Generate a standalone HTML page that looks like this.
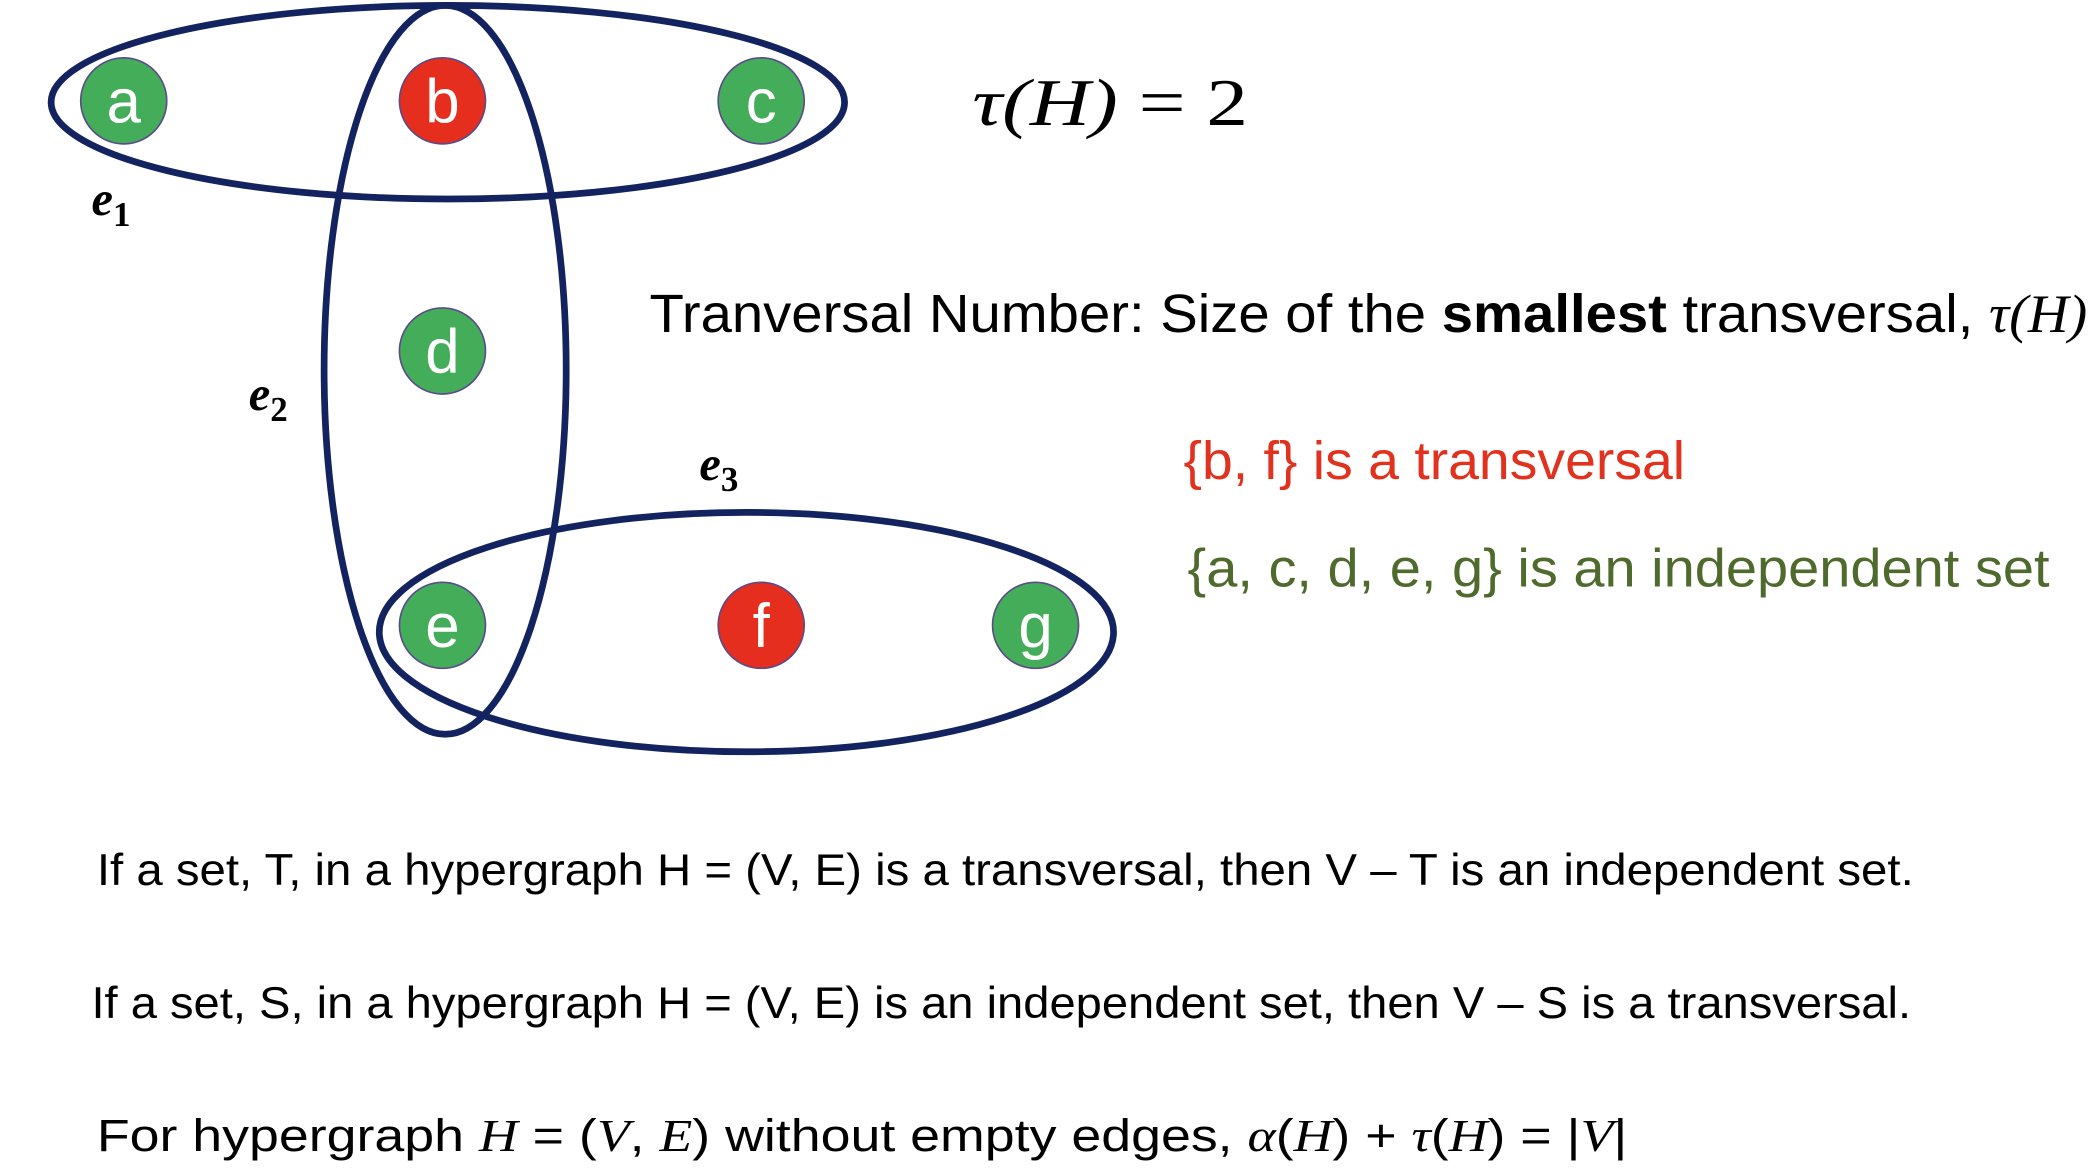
<!DOCTYPE html>
<html><head><meta charset="utf-8"><style>
html,body{margin:0;padding:0;background:#fff;}
svg{display:block;}
text{font-family:"Liberation Sans",sans-serif;}
.m{font-family:"Liberation Serif",serif;font-style:italic;}
.lbl{font-family:"Liberation Serif",serif;font-style:italic;font-weight:bold;}
.sub{font-style:normal;}
</style></head><body>
<svg width="2098" height="1170" viewBox="0 0 1560 870" preserveAspectRatio="none" xmlns="http://www.w3.org/2000/svg">
<rect width="1560" height="870" fill="#fff"/>
<g fill="none" stroke="#13235f" stroke-width="5">
<ellipse cx="333" cy="76" rx="295" ry="72"/>
<ellipse cx="331" cy="275" rx="90" ry="271"/>
<ellipse cx="555" cy="470" rx="273" ry="89"/>
</g>
<g stroke="#5a4a8a" stroke-width="1.2" font-size="46" text-anchor="middle" fill="#fff">
<g><circle cx="92" cy="75" r="32" fill="#44ad5a"/><text x="92" y="91" fill="#fff" stroke="none">a</text></g>
<g><circle cx="329" cy="75" r="32" fill="#e52e1e"/><text x="329" y="91" fill="#fff" stroke="none">b</text></g>
<g><circle cx="566" cy="75" r="32" fill="#44ad5a"/><text x="566" y="91" fill="#fff" stroke="none">c</text></g>
<g><circle cx="329" cy="261" r="32" fill="#44ad5a"/><text x="329" y="277" fill="#fff" stroke="none">d</text></g>
<g><circle cx="329" cy="465" r="32" fill="#44ad5a"/><text x="329" y="481" fill="#fff" stroke="none">e</text></g>
<g><circle cx="566" cy="465" r="32" fill="#e52e1e"/><text x="566" y="481" fill="#fff" stroke="none">f</text></g>
<g><circle cx="770" cy="465" r="32" fill="#44ad5a"/><text x="770" y="481" fill="#fff" stroke="none">g</text></g>
</g>
<g fill="#000">
<text class="lbl" x="68" y="160" font-size="36">e<tspan class="sub" font-size="26" dy="8">1</tspan></text>
<text class="lbl" x="185" y="305" font-size="36">e<tspan class="sub" font-size="26" dy="8">2</tspan></text>
<text class="lbl" x="520" y="357" font-size="36">e<tspan class="sub" font-size="26" dy="8">3</tspan></text>
</g>
<text class="m" x="723" y="93" font-size="50" textLength="205" lengthAdjust="spacingAndGlyphs">τ(H) <tspan font-style="normal">= 2</tspan></text>
<text x="483" y="247" font-size="40" textLength="1069" lengthAdjust="spacingAndGlyphs">Tranversal Number: Size of the <tspan font-weight="bold">smallest</tspan> transversal, <tspan class="m">τ(H)</tspan></text>
<text x="880" y="356" font-size="40" fill="#e0321e" textLength="373" lengthAdjust="spacingAndGlyphs">{b, f} is a transversal</text>
<text x="883" y="436" font-size="40" fill="#4e6a2c" textLength="641" lengthAdjust="spacingAndGlyphs">{a, c, d, e, g} is an independent set</text>
<text x="72" y="658" font-size="33" textLength="1351" lengthAdjust="spacingAndGlyphs">If a set, T, in a hypergraph H = (V, E) is a transversal, then V – T is an independent set.</text>
<text x="68" y="757" font-size="33" textLength="1353" lengthAdjust="spacingAndGlyphs">If a set, S, in a hypergraph H = (V, E) is an independent set, then V – S is a transversal.</text>
<text x="72" y="856" font-size="34" textLength="1138" lengthAdjust="spacingAndGlyphs">For hypergraph <tspan class="m">H</tspan>  =  (<tspan class="m">V</tspan>, <tspan class="m">E</tspan>) without empty edges, <tspan class="m">α</tspan>(<tspan class="m">H</tspan>) + <tspan class="m">τ</tspan>(<tspan class="m">H</tspan>) = |<tspan class="m">V</tspan>|</text>
</svg>
</body></html>
